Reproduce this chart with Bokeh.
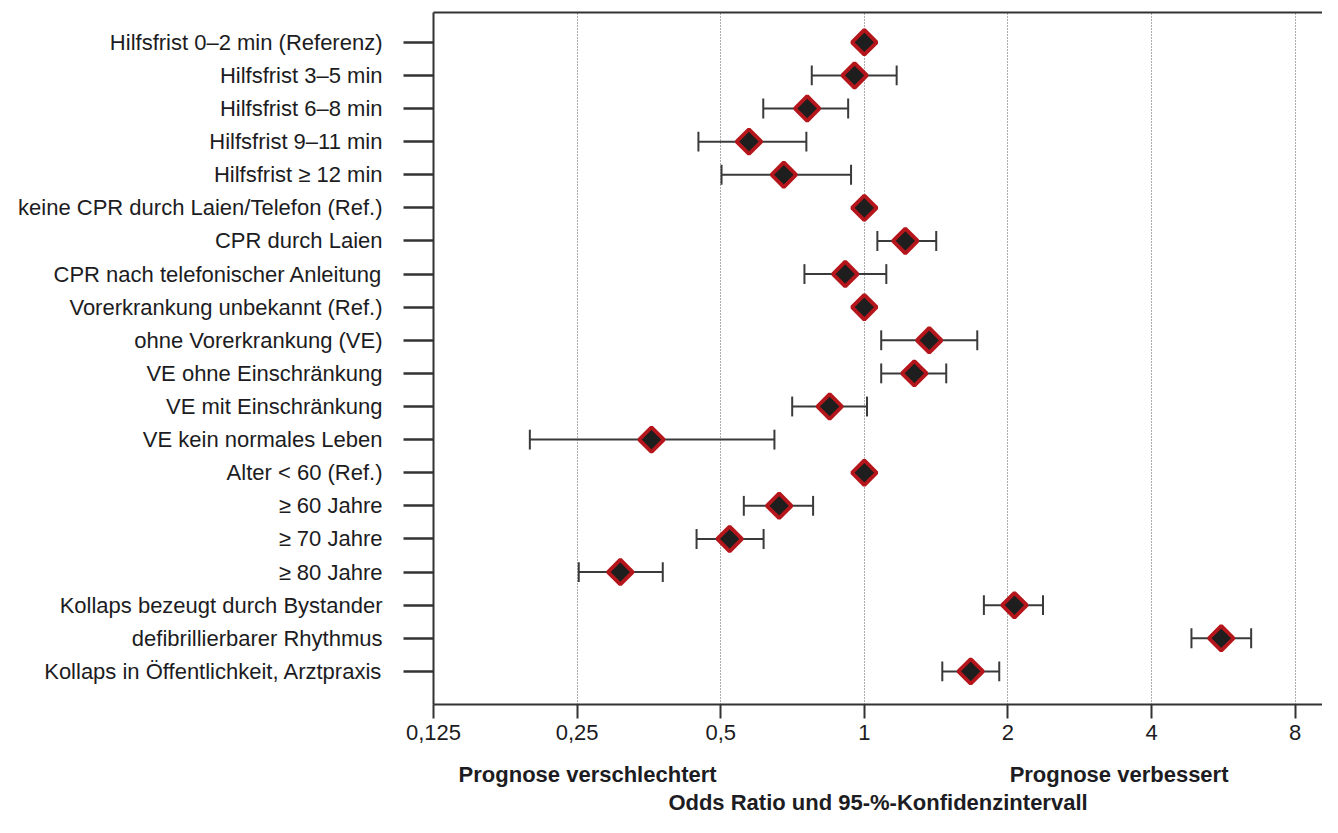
from bokeh.plotting import figure
from bokeh.models import FixedTicker, LogAxis, Range1d
from bokeh.embed import file_html
from bokeh.resources import INLINE
import numpy as np

labels = [
    "Hilfsfrist 0–2 min (Referenz)",
    "Hilfsfrist 3–5 min",
    "Hilfsfrist 6–8 min",
    "Hilfsfrist 9–11 min",
    "Hilfsfrist ≥ 12 min",
    "keine CPR durch Laien/Telefon (Ref.)",
    "CPR durch Laien",
    "CPR nach telefonischer Anleitung",
    "Vorerkrankung unbekannt (Ref.)",
    "ohne Vorerkrankung (VE)",
    "VE ohne Einschränkung",
    "VE mit Einschränkung",
    "VE kein normales Leben",
    "Alter < 60 (Ref.)",
    "≥ 60 Jahre",
    "≥ 70 Jahre",
    "≥ 80 Jahre",
    "Kollaps bezeugt durch Bystander",
    "defibrillierbarer Rhythmus",
    "Kollaps in Öffentlichkeit, Arztpraxis",
]
odds = [1.0, 0.954, 0.759, 0.573, 0.678, 1.0, 1.219, 0.912, 1.0, 1.368,
        1.273, 0.846, 0.358, 1.0, 0.663, 0.522, 0.308, 2.064, 5.60, 1.671]
ci_low = [None, 0.776, 0.614, 0.449, 0.502, None, 1.065, 0.749, None, 1.085,
          1.085, 0.706, 0.199, None, 0.559, 0.445, 0.252, 1.781, 4.85, 1.457]
ci_high = [None, 1.169, 0.925, 0.756, 0.938, None, 1.415, 1.112, None, 1.725,
           1.485, 1.013, 0.648, None, 0.781, 0.615, 0.378, 2.369, 6.47, 1.918]
x_ticks = [0.125, 0.25, 0.5, 1, 2, 4, 8]
x_tick_labels = ["0,125", "0,25", "0,5", "1", "2", "4", "8"]
side_labels = ["Prognose verschlechtert", "Prognose verbessert"]
side_label_pos = [0.263, 3.42]
axis_title = "Odds Ratio und 95-%-Konfidenzintervall"

n = len(labels)
ypos = [n - i for i in range(n)]

FONT = "Liberation Sans"
TXT = "#1c1c22"
AX = "#333333"

p = figure(width=1322, height=817, x_axis_type="log",
           x_range=Range1d(0.125, 9.13), y_range=Range1d(0, 20.9),
           output_backend="svg", toolbar_location=None,
           min_border_left=433, min_border_right=0, min_border_top=12,
           min_border_bottom=100)
p.outline_line_color = None
p.background_fill_color = "white"

# grid
p.ygrid.grid_line_color = None
p.xgrid.ticker = FixedTicker(ticks=x_ticks)
p.xgrid.grid_line_color = "#5a5a5a"
p.xgrid.grid_line_dash = "1 2"
p.xgrid.grid_line_width = 1

# x axis
xa = p.xaxis[0]
xa.ticker = FixedTicker(ticks=x_ticks)
xa.major_label_overrides = {t: l for t, l in zip(x_ticks, x_tick_labels)}
xa.minor_tick_line_color = None
xa.major_tick_out = 14
xa.major_tick_in = 0
xa.major_tick_line_width = 2
xa.major_tick_line_color = AX
xa.axis_line_width = 2
xa.axis_line_color = AX
xa.major_label_text_font = FONT
xa.major_label_text_font_size = "22px"
xa.major_label_text_color = TXT
xa.major_label_standoff = 6

# second bottom axis carrying the side labels and the title
xb = LogAxis(ticker=FixedTicker(ticks=side_label_pos),
             major_label_overrides={t: l for t, l in zip(side_label_pos, side_labels)},
             axis_line_color=None, major_tick_line_color=None,
             minor_tick_line_color=None, major_tick_out=0, major_tick_in=0,
             major_label_standoff=19,
             major_label_text_font=FONT, major_label_text_font_size="22px",
             major_label_text_font_style="bold", major_label_text_color=TXT,
             axis_label=axis_title, axis_label_text_font=FONT,
             axis_label_text_font_size="22px", axis_label_text_font_style="bold",
             axis_label_text_color=TXT, axis_label_standoff=0)
p.add_layout(xb, "below")

# y axis
ya = p.yaxis[0]
ya.ticker = FixedTicker(ticks=ypos)
ya.major_label_overrides = {y: l for y, l in zip(ypos, labels)}
ya.minor_tick_line_color = None
ya.major_tick_out = 30
ya.major_tick_in = 0
ya.major_tick_line_width = 2.5
ya.major_tick_line_color = AX
ya.axis_line_width = 2
ya.axis_line_color = AX
ya.major_label_text_font = FONT
ya.major_label_text_font_size = "22px"
ya.major_label_text_color = TXT
ya.major_label_standoff = 21

# top border line
top = LogAxis(ticker=FixedTicker(ticks=[]), axis_line_width=2, axis_line_color=AX,
              major_tick_line_color=None, minor_tick_line_color=None,
              major_label_text_font_size="0px")
p.add_layout(top, "above")

# confidence intervals
ci_y = [y for y, lo in zip(ypos, ci_low) if lo is not None]
ci_lo = [lo for lo in ci_low if lo is not None]
ci_hi = [hi for hi in ci_high if hi is not None]
p.segment(x0=ci_lo, x1=ci_hi, y0=ci_y, y1=ci_y, line_color="#3a3a3a", line_width=2)
cap = 0.3
p.segment(x0=ci_lo, x1=ci_lo, y0=[y - cap for y in ci_y], y1=[y + cap for y in ci_y],
          line_color="#3a3a3a", line_width=2)
p.segment(x0=ci_hi, x1=ci_hi, y0=[y - cap for y in ci_y], y1=[y + cap for y in ci_y],
          line_color="#3a3a3a", line_width=2)

# diamonds
p.scatter(x=odds, y=ypos, marker="square", angle=np.pi / 4, size=17.5,
          fill_color="#1e1e1e", line_color="#b5161b", line_width=3.8)

open("out.html", "w").write(file_html(p, INLINE))
